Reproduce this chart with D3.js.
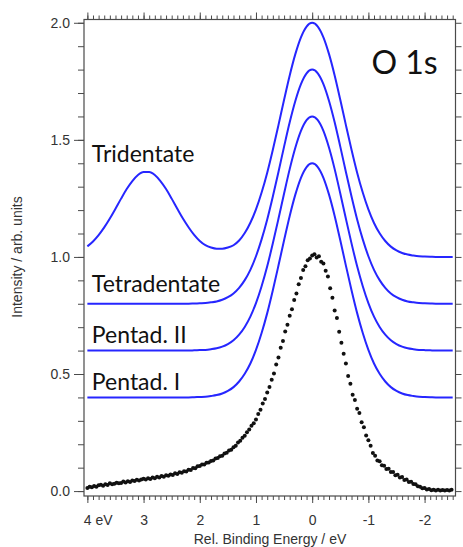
<!DOCTYPE html>
<html>
<head>
<meta charset="utf-8">
<script src="https://cdn.jsdelivr.net/npm/d3@7"></script>
<style>
  html, body { margin: 0; padding: 0; background: #fff; }
  svg { display: block; }
</style>
</head>
<body>
<svg id="chart" width="463" height="547"></svg>
<script>
// ---------- DATA ----------
// Model curves: binding energy grid (eV)
const modelEnergy = [4.0,3.9,3.8,3.7,3.6,3.5,3.4,3.3,3.2,3.1,3.0,2.9,2.8,2.7,2.6,2.5,2.4,2.3,2.2,2.1,2.0,1.9,1.8,1.7,1.6,1.5,1.4,1.3,1.2,1.1,1.0,0.9,0.8,0.7,0.6,0.5,0.4,0.3,0.2,0.1,0.0,-0.1,-0.2,-0.3,-0.4,-0.5,-0.6,-0.7,-0.8,-0.9,-1.0,-1.1,-1.2,-1.3,-1.4,-1.5,-1.6,-1.7,-1.8,-1.9,-2.0,-2.1,-2.2,-2.3,-2.4,-2.5];

const tridentate = [1.045,1.066,1.093,1.126,1.164,1.206,1.249,1.290,1.324,1.350,1.363,1.363,1.350,1.324,1.290,1.249,1.206,1.164,1.127,1.094,1.068,1.050,1.040,1.035,1.035,1.040,1.050,1.070,1.102,1.146,1.203,1.275,1.360,1.458,1.563,1.671,1.775,1.866,1.938,1.984,2.000,1.984,1.938,1.866,1.775,1.671,1.563,1.458,1.360,1.275,1.203,1.145,1.101,1.068,1.044,1.028,1.017,1.010,1.006,1.003,1.002,1.001,1.000,1.000,1.000,1.000];

const tetradentate = [0.800,0.800,0.800,0.800,0.800,0.800,0.800,0.800,0.800,0.800,0.800,0.800,0.800,0.800,0.800,0.800,0.800,0.800,0.800,0.801,0.802,0.803,0.806,0.810,0.817,0.828,0.844,0.868,0.901,0.945,1.003,1.075,1.160,1.258,1.363,1.471,1.575,1.666,1.738,1.784,1.800,1.784,1.738,1.666,1.575,1.471,1.363,1.258,1.160,1.075,1.003,0.945,0.901,0.868,0.844,0.828,0.817,0.810,0.806,0.803,0.802,0.801,0.800,0.800,0.800,0.800];

const pentad2 = [0.600,0.600,0.600,0.600,0.600,0.600,0.600,0.600,0.600,0.600,0.600,0.600,0.600,0.600,0.600,0.600,0.600,0.600,0.600,0.601,0.602,0.603,0.606,0.610,0.617,0.628,0.644,0.668,0.701,0.745,0.803,0.875,0.960,1.058,1.163,1.271,1.375,1.466,1.538,1.584,1.600,1.584,1.538,1.466,1.375,1.271,1.163,1.058,0.960,0.875,0.803,0.745,0.701,0.668,0.644,0.628,0.617,0.610,0.606,0.603,0.602,0.601,0.600,0.600,0.600,0.600];

const pentad1 = [0.400,0.400,0.400,0.400,0.400,0.400,0.400,0.400,0.400,0.400,0.400,0.400,0.400,0.400,0.400,0.400,0.400,0.400,0.400,0.401,0.402,0.403,0.406,0.410,0.417,0.428,0.444,0.468,0.501,0.545,0.603,0.675,0.760,0.858,0.963,1.071,1.175,1.266,1.338,1.384,1.400,1.384,1.338,1.266,1.175,1.071,0.963,0.858,0.760,0.675,0.603,0.545,0.501,0.468,0.444,0.428,0.417,0.410,0.406,0.403,0.402,0.401,0.400,0.400,0.400,0.400];

// Measured spectrum
const dataEnergy = [4.00,3.96,3.92,3.88,3.84,3.80,3.76,3.72,3.68,3.64,3.60,3.56,3.52,3.48,3.44,3.40,3.36,3.32,3.28,3.24,3.20,3.16,3.12,3.08,3.04,3.00,
2.96,2.92,2.88,2.84,2.80,2.76,2.72,2.68,2.64,2.60,2.56,2.52,2.48,2.44,2.40,2.36,2.32,2.28,2.24,2.20,2.16,2.12,2.08,2.04,2.00,
1.96,1.92,1.88,1.84,1.80,1.76,1.72,1.68,1.64,1.60,1.56,1.52,1.48,1.44,1.40,1.36,1.32,1.28,1.24,1.20,1.16,1.12,1.08,1.04,1.00,
0.96,0.92,0.88,0.84,0.80,0.76,0.72,0.68,0.64,0.60,0.56,0.52,0.48,0.44,0.40,0.36,0.32,0.28,0.24,0.20,0.16,0.12,0.08,0.04,0.00,
-0.04,-0.08,-0.12,-0.16,-0.20,-0.24,-0.28,-0.32,-0.36,-0.40,-0.44,-0.48,-0.52,-0.56,-0.60,-0.64,-0.68,-0.72,-0.76,-0.80,-0.84,-0.88,-0.92,-0.96,-1.00,
-1.04,-1.08,-1.12,-1.16,-1.20,-1.24,-1.28,-1.32,-1.36,-1.40,-1.44,-1.48,-1.52,-1.56,-1.60,-1.64,-1.68,-1.72,-1.76,-1.80,-1.84,-1.88,-1.92,-1.96,-2.00,-2.04,-2.08,-2.12,-2.16,-2.20,-2.24,-2.28,-2.32,-2.36,-2.40,-2.44,-2.48];

const dataIntensity = [0.013,0.018,0.016,0.022,0.019,0.025,0.027,0.023,0.029,0.026,0.033,0.029,0.031,0.036,0.033,0.035,0.041,0.037,0.042,0.039,0.045,0.043,0.048,0.045,0.049,0.053,
0.049,0.055,0.052,0.058,0.055,0.061,0.058,0.064,0.061,0.068,0.065,0.071,0.069,0.076,0.073,0.080,0.078,0.085,0.084,0.091,0.090,0.099,0.098,0.106,0.107,
0.113,0.114,0.121,0.122,0.129,0.131,0.139,0.141,0.149,0.151,0.160,0.164,0.173,0.177,0.187,0.194,0.207,0.215,0.228,0.236,0.251,0.263,0.279,0.290,0.306,
0.329,0.347,0.374,0.393,0.421,0.444,0.476,0.502,0.541,0.571,0.612,0.641,0.682,0.710,0.749,0.777,0.816,0.844,0.883,0.910,0.944,0.960,0.986,0.993,1.006,
1.011,0.998,1.003,0.979,0.972,0.941,0.916,0.866,0.826,0.771,0.739,0.681,0.633,0.586,0.545,0.492,0.458,0.411,0.389,0.352,0.333,0.294,0.273,0.237,0.217,
0.194,0.163,0.151,0.131,0.127,0.110,0.108,0.094,0.095,0.081,0.082,0.068,0.070,0.058,0.060,0.047,0.049,0.039,0.040,0.030,0.029,0.021,0.019,0.012,0.013,0.007,0.009,0.004,0.006,0.003,0.006,0.002,0.005,0.002,0.005,0.003,0.006];

// Axis ticks
const xMajorTicks = [4, 3, 2, 1, 0, -1, -2];
const xMinorTicks = [4.0,3.9,3.8,3.7,3.6,3.5,3.4,3.3,3.2,3.1,3.0,2.9,2.8,2.7,2.6,2.5,2.4,2.3,2.2,2.1,2.0,1.9,1.8,1.7,1.6,1.5,1.4,1.3,1.2,1.1,1.0,0.9,0.8,0.7,0.6,0.5,0.4,0.3,0.2,0.1,0.0,-0.1,-0.2,-0.3,-0.4,-0.5,-0.6,-0.7,-0.8,-0.9,-1.0,-1.1,-1.2,-1.3,-1.4,-1.5,-1.6,-1.7,-1.8,-1.9,-2.0,-2.1,-2.2,-2.3,-2.4,-2.5];
const xTickLabels = ["4 eV", "3", "2", "1", "0", "-1", "-2"];
const yMajorTicks = [0.0, 0.5, 1.0, 1.5, 2.0];
const yMinorTicks = [0.0,0.1,0.2,0.3,0.4,0.5,0.6,0.7,0.8,0.9,1.0,1.1,1.2,1.3,1.4,1.5,1.6,1.7,1.8,1.9,2.0];
const yTickLabels = ["0.0", "0.5", "1.0", "1.5", "2.0"];

const seriesNames = ["Tridentate", "Tetradentate", "Pentad. II", "Pentad. I"];
const seriesValues = [tridentate, tetradentate, pentad2, pentad1];
const seriesLabelAnchor = [[4.0, 1.404], [4.0, 0.851], [4.0, 0.631], [4.0, 0.432]];
const panelTitle = "O 1s";

// ---------- CHART ----------
(function () {
const svg = d3.select("#chart");
const pLeft = 84, pRight = 455.5, pTop = 19.5, pBottom = 496;
const x = d3.scaleLinear().domain([4.06, -2.55]).range([pLeft, pRight]);
const y = d3.scaleLinear().domain([-0.021, 2.014]).range([pBottom, pTop]);

const axisColor = "#4a4a4a";
const labelFont = "'Liberation Sans', Arial, Helvetica, sans-serif";

function styleAxis(g) {
  g.select(".domain").remove();
  g.selectAll(".tick line").attr("stroke", axisColor).attr("stroke-width", 1);
  g.selectAll(".tick text").attr("fill", "#333").style("font-family", labelFont).style("font-size", "14px");
}

// Bottom axis
svg.append("g").attr("transform", `translate(0,${pBottom})`)
  .call(d3.axisBottom(x).tickValues(xMinorTicks).tickSize(4).tickFormat(""))
  .call(styleAxis);
svg.append("g").attr("transform", `translate(0,${pBottom})`)
  .call(d3.axisBottom(x).tickValues(xMajorTicks).tickSize(7).tickPadding(12)
    .tickFormat((d, i) => xTickLabels[i]))
  .call(styleAxis)
  .call(g => g.selectAll(".tick text").filter((d, i) => i === 0)
    .attr("text-anchor", "start").attr("dx", "-4"));

// Top axis
svg.append("g").attr("transform", `translate(0,${pTop})`)
  .call(d3.axisTop(x).tickValues(xMinorTicks).tickSize(4).tickFormat(""))
  .call(styleAxis);
svg.append("g").attr("transform", `translate(0,${pTop})`)
  .call(d3.axisTop(x).tickValues(xMajorTicks).tickSize(7).tickFormat(""))
  .call(styleAxis);

// Left axis
svg.append("g").attr("transform", `translate(${pLeft},0)`)
  .call(d3.axisLeft(y).tickValues(yMinorTicks).tickSize(6).tickFormat(""))
  .call(styleAxis);
svg.append("g").attr("transform", `translate(${pLeft},0)`)
  .call(d3.axisLeft(y).tickValues(yMajorTicks).tickSize(10).tickPadding(4)
    .tickFormat((d, i) => yTickLabels[i]))
  .call(styleAxis);

// Right axis
svg.append("g").attr("transform", `translate(${pRight},0)`)
  .call(d3.axisRight(y).tickValues(yMinorTicks).tickSize(6).tickFormat(""))
  .call(styleAxis);

// Frame
svg.append("rect")
  .attr("x", pLeft).attr("y", pTop)
  .attr("width", pRight - pLeft).attr("height", pBottom - pTop)
  .attr("fill", "none").attr("stroke", axisColor).attr("stroke-width", 1.2);

// Axis titles
svg.append("text")
  .attr("x", 270).attr("y", 544)
  .attr("text-anchor", "middle")
  .style("font-family", labelFont).style("font-size", "14px").attr("fill", "#333")
  .text("Rel. Binding Energy / eV");
svg.append("text")
  .attr("transform", "translate(22,257) rotate(-90)")
  .attr("text-anchor", "middle")
  .style("font-family", labelFont).style("font-size", "14px").attr("fill", "#333")
  .text("Intensity / arb. units");

// Model curves
const line = d3.line().x(d => x(d[0])).y(d => y(d[1])).curve(d3.curveMonotoneX);
seriesValues.forEach(vals => {
  svg.append("path")
    .datum(modelEnergy.map((e, i) => [e, vals[i]]))
    .attr("d", line)
    .attr("fill", "none")
    .attr("stroke", "#2626ff")
    .attr("stroke-width", 2);
});

// Measured points
svg.append("g").selectAll("circle")
  .data(dataEnergy.map((e, i) => [e, dataIntensity[i]]))
  .join("circle")
  .attr("cx", d => x(d[0]))
  .attr("cy", d => y(d[1]))
  .attr("r", 2.0)
  .attr("fill", "#111");

// Series labels
const seriesFont = "Lato, 'Open Sans', sans-serif";
seriesNames.forEach((name, i) => {
  const [e, v] = seriesLabelAnchor[i];
  svg.append("text")
    .attr("x", x(e) + 4.5)
    .attr("y", y(v))
    .style("font-family", seriesFont).style("font-size", "23px")
    .attr("fill", "#111")
    .text(name);
});

svg.append("text")
  .attr("x", 371.5).attr("y", 73.5)
  .style("font-family", seriesFont).style("font-size", "32px")
  .attr("fill", "#111")
  .text(panelTitle);
})();
</script>
</body>
</html>
